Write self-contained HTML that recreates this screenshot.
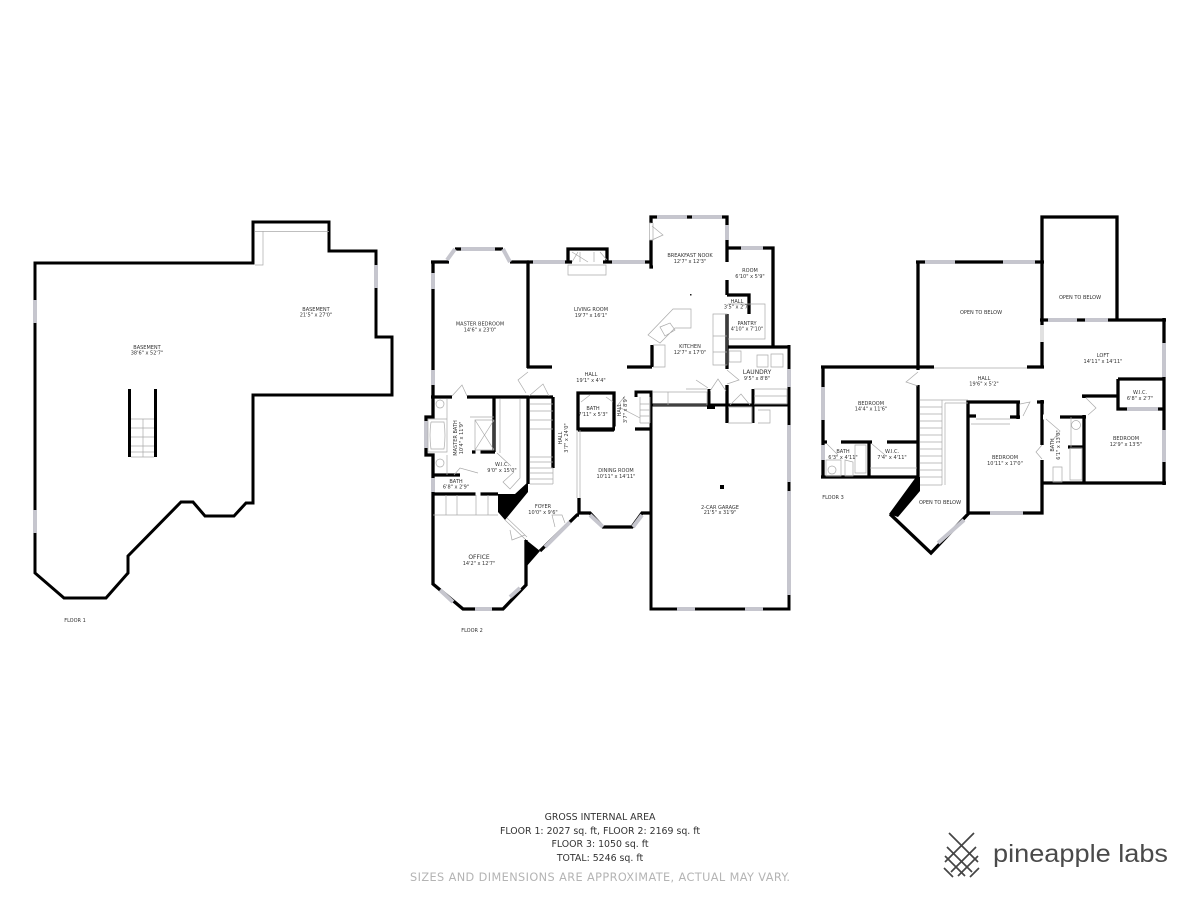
<!DOCTYPE html>
<html><head><meta charset="utf-8"><title>Floor plan</title>
<style>
html,body{margin:0;padding:0;background:#fff;width:1200px;height:900px;overflow:hidden}
svg{display:block}
.w{fill:none;stroke:#000;stroke-width:3.3;stroke-linejoin:miter}
.w1{fill:none;stroke:#000;stroke-width:3;stroke-linejoin:miter}
.w3{fill:none;stroke:#000;stroke-width:3}
.g{fill:none;stroke:#c6c6ce;stroke-width:4}
.gap{fill:none;stroke:#fff;stroke-width:5}
.t{fill:none;stroke:#aaa;stroke-width:.7}
.l{font-family:"DejaVu Sans",sans-serif;font-size:5px;fill:#333;text-anchor:middle}
.b{font-family:"DejaVu Sans",sans-serif;font-size:9.4px;fill:#333;text-anchor:middle}
</style></head><body>
<svg width="1200" height="900" viewBox="0 0 1200 900" xmlns="http://www.w3.org/2000/svg">
<rect width="1200" height="900" fill="#fff"/>

<!-- FLOOR 1 -->
<path class="w1" d="M35 263H253V222H329V251H376V337H392V395H253V503H246L234 516H205L193 502H181L128 556V573L106 598H64L35 573Z"/>
<path class="g" stroke-width="3" d="M35 300V323M35 510V533M376 265V288"/>
<path class="t" d="M255 231.5H329M263 231V265H255"/>
<path class="w3" d="M129.5 389V457M155.5 389V457"/>
<path class="t" d="M131 419H154M131 428H154M131 437H154M131 446H154M131 452H154M131 457H154M143 419V457"/>
<text class="l" x="147" y="349">BASEMENT</text><text class="l" x="147" y="354.5">38'6" x 52'7"</text>
<text class="l" x="316" y="311">BASEMENT</text><text class="l" x="316" y="316.5">21'5" x 27'0"</text>
<text class="l" x="75" y="622">FLOOR 1</text>

<!-- FLOOR 2 walls -->
<path class="w" d="M431 262H449M510 262H529M455 249H503M433 262V417H426V455H433V584L463 609H503L526 585V540"/>
<path class="w" d="M527 262H651M568 262V249H607V262M528 262V368M527 367H552M528 397V484M431 397H553M553 397V468"/>
<path class="w" d="M653 267H651V217H727V295M727 248H773V347M727 295H749V314M727 314V423M727 347H789M652 345V367M627 367H652"/>
<path class="w1" d="M789 345V609H651V392H636V397M651 405H789M753 389V423"/>
<path class="w" d="M494 397V452M472 452H495M433 475H480M478 473V494M433 494H498"/>
<path class="w" d="M578 393H614V429H578ZM578 430H614M635 429H651M579 498V513H590L603 527H632L642 513H651"/>
<path class="w" d="M540 551L577 515H579"/>
<path class="w3" d="M709 389V406"/>
<rect x="707" y="405" width="8" height="4" fill="#000"/>
<polygon fill="#000" points="498,494 515,494 528,482 528,492 505,520 498,512"/>
<polygon fill="#000" points="525,539 540,551 526,567"/>
<rect x="720" y="485" width="4" height="4" fill="#000"/>
<!-- windows / openings floor 2 -->
<path class="gap" d="M452 397H467M528 370V395M727 369V385M727 262V280M651 223V240M478 430V498M460 475H476M615 429H635M572 262H603"/>
<path class="g" d="M433 273V289M433 370V385M426 421V448M433 478V492M461 249H495M533 262H565M612 262H645M657 217H687M692 217H722M727 225V240M741 248H763M789 369V387M789 425V482M789 491V595M677 609H695M745 609H763M475 609H492"/>
<path class="g" stroke-width="3" d="M447 260L455 249M503 249L510 262M440 590L453 602M510 597L520 588M590 515L603 527M633 527L642 515M545 547L570 522"/>
<path class="t" d="M651.5 223H649.5V240H653V223M577 430V498M580 430V498M505 520L525 539M507 518L527 537"/>
<!-- fireplace -->
<path class="t" d="M568 265H606V275H568ZM572 252L588 262M594 252V262M600 252L607 260M572 262L578 252M580 252V262"/>
<!-- stairs & treads -->
<path class="t" d="M530 404H553M530 411H553M530 420H553M530 429H553M530 457H553M530 462H553M530 468H553M530 473H553M530 479H553M530 484H553M553 468V484"/>
<path class="t" d="M640 397V423M650 397V423M640 404H650M640 410H650M640 416H650M640 423H650"/>
<path class="t" d="M433 515H498M446 495V515M457 495V515M476 495V515M488 495V515"/>
<!-- fixtures -->
<path class="t" d="M428 419H447V452H428ZM431 422H444Q446 435 444 449H431Q429 435 431 422M475 420H494V450H475ZM475 420L494 450M494 420L475 450M470 417H494M500 399V453M520 399V478L510 489L503 482L514 472M447 399V452M447 455V475"/>
<circle cx="440" cy="404" r="4" class="t"/><circle cx="440" cy="463" r="4" class="t"/>
<path class="t" d="M673 309H691V328H675L660 343L648 335ZM660 327L670 323L675 330L665 336ZM713 314H727V365H713ZM713 336H727V352H713M653 345H665V367H653M653 392H707V405H653M668 392V405M686 389H707M728 304H765V339H728M729 351H741V362H729ZM757 355H768V367H757ZM771 354H783V367H771ZM754 389H787V404H754M728 407H752V423H728M758 410H770V423H758M754 396H787"/>
<path class="t" d="M452 396L462 385L467 396M529 396L543 384L549 396M528 372L518 380L526 393M652 226L663 235L652 240M727 370L739 380L727 384M730 405L741 394L750 405M710 391L718 379L726 391M581 402L590 395M606 397L613 402M625 396L617 406L640 418M525 535L512 540L510 530M555 527L552 515H562L565 523M454 475L460 468L478 473M497 453L511 466"/>
<path class="t" d="M696 380L708 388"/>
<rect x="690" y="294" width="1.5" height="1.5" fill="#222"/>

<!-- FLOOR 2 labels -->
<text class="l" x="480" y="325.5">MASTER BEDROOM</text><text class="l" x="480" y="331.5">14'6" x 23'0"</text>
<text class="l" x="591" y="311">LIVING ROOM</text><text class="l" x="591" y="317">19'7" x 16'1"</text>
<text class="l" x="591" y="376">HALL</text><text class="l" x="591" y="382">19'1" x 4'4"</text>
<text class="l" x="690" y="257">BREAKFAST NOOK</text><text class="l" x="690" y="263">12'7" x 12'3"</text>
<text class="l" x="750" y="272">ROOM</text><text class="l" x="750" y="278">6'10" x 5'9"</text>
<text class="l" x="737" y="303">HALL</text><text class="l" x="737" y="308.5">3'5" x 2'7"</text>
<text class="l" x="747" y="325">PANTRY</text><text class="l" x="747" y="330.5">4'10" x 7'10"</text>
<text class="l" x="690" y="348">KITCHEN</text><text class="l" x="690" y="354">12'7" x 17'0"</text>
<text class="l" x="757" y="374" style="font-size:6px">LAUNDRY</text><text class="l" x="757" y="380">9'5" x 8'8"</text>
<text class="l" x="593" y="410">BATH</text><text class="l" x="593" y="416">7'11" x 5'3"</text>
<text class="l" transform="translate(621,410) rotate(-90)" x="0" y="0">HALL</text><text class="l" transform="translate(627,410) rotate(-90)" x="0" y="0">3'7" x 8'9"</text>
<text class="l" transform="translate(562,438) rotate(-90)" x="0" y="0">HALL</text><text class="l" transform="translate(568,438) rotate(-90)" x="0" y="0">3'7" x 24'0"</text>
<text class="l" transform="translate(457,438) rotate(-90)" x="0" y="0">MASTER BATH</text><text class="l" transform="translate(463,438) rotate(-90)" x="0" y="0">10'4" x 11'9"</text>
<text class="l" x="502" y="466">W.I.C.</text><text class="l" x="502" y="472">9'0" x 15'0"</text>
<text class="l" x="456" y="483">BATH</text><text class="l" x="456" y="488.5">6'8" x 2'9"</text>
<text class="l" x="543" y="508">FOYER</text><text class="l" x="543" y="514">10'0" x 9'6"</text>
<text class="l" x="616" y="472">DINING ROOM</text><text class="l" x="616" y="478">10'11" x 14'11"</text>
<text class="l" x="479" y="559" style="font-size:6px">OFFICE</text><text class="l" x="479" y="565">14'2" x 12'7"</text>
<text class="l" x="720" y="509">2-CAR GARAGE</text><text class="l" x="720" y="514">21'5" x 31'9"</text>
<text class="l" x="472" y="632">FLOOR 2</text>

<!-- FLOOR 3 walls -->
<path class="w" d="M916 262H1044M918 262V478M821 367H934M823 367V477M821 477H918M823 442H918M869 442V477"/>
<path class="w" d="M1042 262V368M1027 367H1044M1042 320V217H1117V320M1040 320H1166M1164 318V485M1041 483H1166M1042 400V513H968M968 513V402H1020M1037 402H1044M1018 402V419M1010 417H1020"/>
<path class="w" d="M1060 417H1086M1084 396V483M1082 396H1118M1068 447H1083M1118 379H1164M1118 379V409H1164M969 416H976"/>
<path class="w" d="M890 514L931 553L969 513"/>
<polygon fill="#000" points="916,477 920,477 920,491 898,517 889,514"/>
<!-- windows floor 3 -->
<path class="gap" d="M918 370V385M827 442H841M872 442H887M1043 417H1060M1042 445V460M1084 398V415M1042 325V342"/>
<path class="g" d="M925 262H955M1003 262H1035M1048 320H1077M1085 320H1108M1164 343V377M1164 430V462M1127 409H1158M990 513H1023M823 387V420M823 445V460"/>
<path class="g" stroke-width="3" d="M938 543L964 520"/>
<path class="t" d="M1043 325V342M1041 325V342M934 368H1027M920 400H942M920 407H942M920 414H942M920 421H942M920 428H942M920 435H942M920 442H942M920 449H942M920 456H942M920 463H942M920 470H942M920 477H942M920 485H942M942 400V485M945 403H968M945 403V485M942 400H968M971 424H1010M976 419H1010"/>
<path class="t" d="M918 372L906 382L918 386M1086 398L1096 408L1088 415M1046 419L1060 431L1052 441M1042 445L1036 452L1042 459M1020 404L1030 402L1023 416M827 444L838 455M872 444L885 455"/>
<path class="t" d="M1070 448H1082V480H1070ZM1053 467H1062V482H1053ZM1071 417V447"/>
<circle cx="1076" cy="425" r="4.5" class="t"/>
<path class="t" d="M826 460H841V476H826ZM845 460V476H853V462ZM855 445H866V473H855ZM870 468H917"/>
<circle cx="832" cy="470" r="4" class="t"/>

<!-- FLOOR 3 labels -->
<text class="l" x="981" y="314">OPEN TO BELOW</text>
<text class="l" x="1080" y="299">OPEN TO BELOW</text>
<text class="l" x="940" y="504">OPEN TO BELOW</text>
<text class="l" x="984" y="380">HALL</text><text class="l" x="984" y="385.5">19'6" x 5'2"</text>
<text class="l" x="871" y="405">BEDROOM</text><text class="l" x="871" y="410.5">14'4" x 11'6"</text>
<text class="l" x="843" y="453">BATH</text><text class="l" x="843" y="459">6'3" x 4'11"</text>
<text class="l" x="892" y="453">W.I.C.</text><text class="l" x="892" y="459">7'4" x 4'11"</text>
<text class="l" x="1103" y="357">LOFT</text><text class="l" x="1103" y="363">14'11" x 14'11"</text>
<text class="l" x="1140" y="394">W.I.C.</text><text class="l" x="1140" y="400">6'8" x 2'7"</text>
<text class="l" x="1126" y="440">BEDROOM</text><text class="l" x="1126" y="446">12'9" x 13'5"</text>
<text class="l" x="1005" y="459">BEDROOM</text><text class="l" x="1005" y="465">10'11" x 17'0"</text>
<text class="l" transform="translate(1054,445) rotate(-90)" x="0" y="0">BATH</text><text class="l" transform="translate(1060,445) rotate(-90)" x="0" y="0">6'1" x 13'0"</text>
<text class="l" x="833" y="499">FLOOR 3</text>

<!-- Bottom text -->
<text class="b" x="600" y="820">GROSS INTERNAL AREA</text>
<text class="b" x="600" y="834">FLOOR 1: 2027 sq. ft, FLOOR 2: 2169 sq. ft</text>
<text class="b" x="600" y="847">FLOOR 3: 1050 sq. ft</text>
<text class="b" x="600" y="861">TOTAL: 5246 sq. ft</text>
<text x="600" y="881" text-anchor="middle" font-family="DejaVu Sans, sans-serif" font-size="11.3" fill="#b4b4b4" textLength="380">SIZES AND DIMENSIONS ARE APPROXIMATE, ACTUAL MAY VARY.</text>

<!-- logo -->
<g stroke="#444" stroke-width="1.7" fill="none">
<path d="M949 833L978 862M947 847L972 872M945 856L965 876M944 868L953 877"/>
<path d="M974 833L945 862M976 847L951 872M978 856L958 876M979 868L970 877"/>
</g>
<text x="993" y="862" font-family="Liberation Sans, sans-serif" font-size="25" fill="#4a4a4a" textLength="175" lengthAdjust="spacingAndGlyphs">pineapple labs</text>
</svg>
</body></html>
